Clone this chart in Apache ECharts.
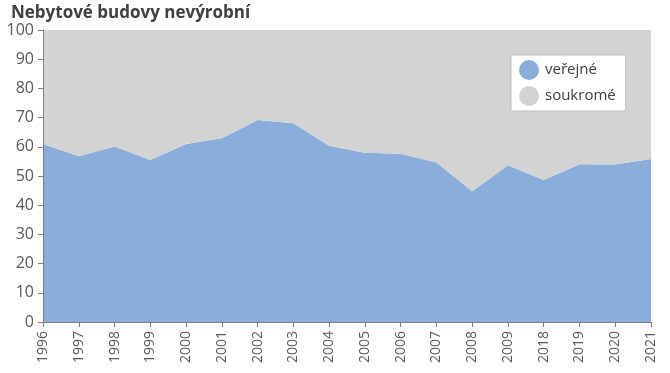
<!DOCTYPE html>
<html>
<head>
<meta charset="utf-8">
<script src="https://cdn.jsdelivr.net/npm/echarts@6/dist/echarts.min.js"></script>
<style>html,body{margin:0;padding:0;background:#fff}#c{width:670px;height:373px}</style>
</head>
<body>
<div id="c"></div>
<script>
const years = ['1996','1997','1998','1999','2000','2001','2002','2003','2004','2005','2006','2007','2008','2009','2018','2019','2020','2021'];
const verejne = [61.0, 56.8, 60.1, 55.5, 61.0, 62.9, 69.2, 68.1, 60.4, 58.0, 57.6, 54.6, 44.8, 53.7, 48.6, 54.0, 53.9, 55.8];
const soukrome = [39.0, 43.2, 39.9, 44.5, 39.0, 37.1, 30.8, 31.9, 39.6, 42.0, 42.4, 45.4, 55.2, 46.3, 51.4, 46.0, 46.1, 44.2];
const yTicks = [0,10,20,30,40,50,60,70,80,90,100];

const chart = echarts.init(document.getElementById('c'), null, {renderer:'canvas'});
const font = '"Open Sans", "Noto Sans", sans-serif';
chart.setOption({
  animation: false,
  textStyle: {fontFamily: font},
  title: {
    text: 'Nebytové budovy nevýrobní',
    left: 6, top: 0,
    textStyle: {fontFamily: font, fontSize: 17, fontWeight: 'bold', color: '#404040'}
  },
  legend: {
    orient: 'vertical',
    left: 511, top: 55,
    backgroundColor: '#fff',
    borderColor: '#bdbdbd', borderWidth: 1, borderRadius: 0,
    padding: [5, 10, 5, 8],
    itemWidth: 20, itemHeight: 20, itemGap: 6,
    icon: 'circle',
    textStyle: {fontFamily: font, fontSize: 15, color: '#404040', padding: [0,0,0,1]},
    data: ['veřejné', 'soukromé']
  },
  grid: {left: 43, right: 19, top: 30, bottom: 51, containLabel: false},
  xAxis: {
    type: 'category',
    data: years,
    boundaryGap: false,
    axisLine: {show: true, lineStyle: {color: '#7f7f7f', width: 1}},
    axisTick: {show: true, length: 5, inside: false, alignWithLabel: true, lineStyle: {color: '#7f7f7f'}},
    axisLabel: {rotate: 90, interval: 0, fontFamily: font, fontSize: 14, color: '#595959', margin: 9},
    splitLine: {show: false},
    z: 10
  },
  yAxis: {
    type: 'value',
    min: 0, max: 100, interval: 10,
    axisLine: {show: true, lineStyle: {color: '#7f7f7f', width: 1}},
    axisTick: {show: true, length: 5, lineStyle: {color: '#7f7f7f'}},
    axisLabel: {fontFamily: font, fontSize: 16, color: '#595959', margin: 9,
      formatter: v => yTicks.includes(v) ? String(v) : ''},
    splitLine: {show: false},
    z: 10
  },
  series: [
    {
      name: 'veřejné', type: 'line', stack: 'a', data: verejne,
      showSymbol: false, symbol: 'none',
      lineStyle: {width: 0},
      itemStyle: {color: '#8aaddc'},
      areaStyle: {color: '#8aaddc', opacity: 1}
    },
    {
      name: 'soukromé', type: 'line', stack: 'a', data: soukrome,
      showSymbol: false, symbol: 'none',
      lineStyle: {width: 0},
      itemStyle: {color: '#d3d3d3'},
      areaStyle: {color: '#d3d3d3', opacity: 1}
    }
  ]
});
</script>
</body>
</html>
